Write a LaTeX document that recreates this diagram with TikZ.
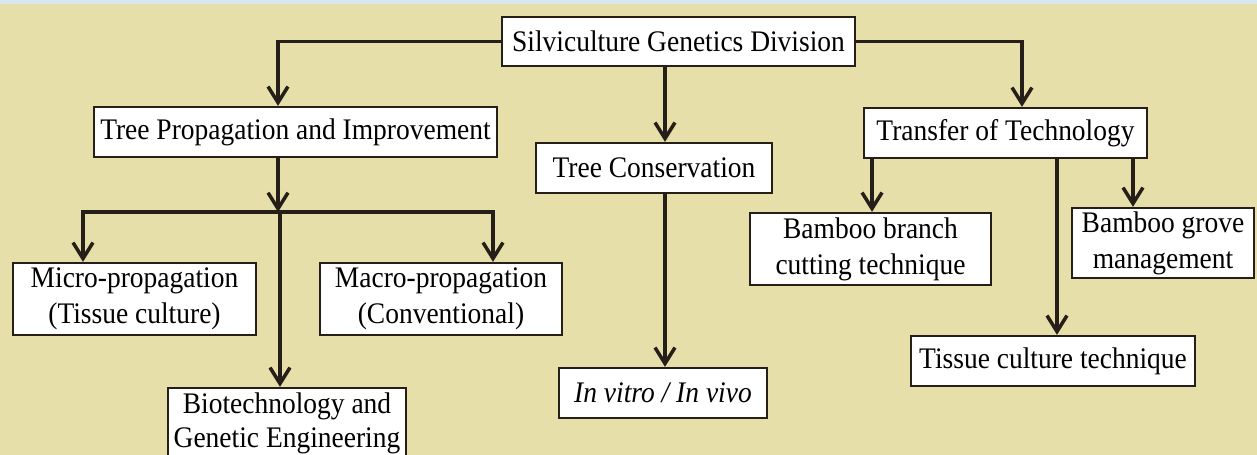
\documentclass[tikz,border=0pt]{standalone}
\usepackage{fontspec}
\setmainfont{Liberation Serif}[FakeStretch=0.92]
\usetikzlibrary{arrows.meta}
\definecolor{paper}{RGB}{231,223,170}
\definecolor{sky}{RGB}{214,232,238}
\definecolor{ink}{RGB}{38,30,24}

\begin{document}
\begin{tikzpicture}[x=0.02cm,y=-0.02cm,line width=2pt,draw=ink,
 box/.style={draw=ink,line width=1.3pt,fill=white,inner sep=0pt,align=center,
  font=\fontsize{17}{20.5}\selectfont},
 arr/.style={-{Straight Barb[length=0.32cm,width=0.4cm]}},
 arrs/.style={{Straight Barb[length=0.32cm,width=0.4cm]}-{Straight Barb[length=0.32cm,width=0.4cm]}}]

\useasboundingbox (0,0) rectangle (1257,455);
\clip (0,0) rectangle (1257,455);
\fill[paper] (0,0) rectangle (1257,455);
\fill[sky] (0,0) rectangle (1257,4);

% top level
\node[box,minimum width=7.06cm,minimum height=0.98cm] (root) at (678.5,41.5) {Silviculture Genetics Division};
\node[box,minimum width=8.06cm,minimum height=1cm] (tpi) at (295.5,132) {Tree Propagation and Improvement};
\node[box,minimum width=4.72cm,minimum height=1cm] (cons) at (654,168) {Tree Conservation};
\node[box,minimum width=5.66cm,minimum height=1cm] (tot) at (1005.5,133) {Transfer of Technology};

% propagation
\node[box,minimum width=4.86cm,minimum height=1.44cm] (micro) at (134.5,299) {Micro-propagation\\(Tissue culture)};
\node[box,minimum width=4.84cm,minimum height=1.44cm] (macro) at (441,299) {Macro-propagation\\(Conventional)};
\node[box,minimum width=4.76cm,minimum height=1.4cm,font=\fontsize{17}{19.5}\selectfont] (bio) at (287,423) {Biotechnology and\\Genetic Engineering};

% conservation
\node[box,minimum width=4.16cm,minimum height=1cm] (vitro) at (663,393) {\textit{In vitro / In vivo}};

% transfer
\node[box,minimum width=4.82cm,minimum height=1.44cm] (branch) at (870.5,249) {Bamboo branch\\cutting technique};
\node[box,minimum width=3.64cm,minimum height=1.4cm] (grove) at (1163,243) {Bamboo grove\\management};
\node[box,minimum width=5.68cm,minimum height=1cm] (tissue) at (1053,361) {Tissue culture technique};

\draw[arr] (root.west) -| ([xshift=-0.35cm]tpi.north);
\draw[arr] (root.east) -| ([xshift=0.33cm]tot.north);
\draw[arr] ([xshift=-0.27cm]root.south) coordinate (r0) -- (r0 |- cons.north);
\draw[arr] ([xshift=0.22cm]cons.south) coordinate (c0) -- (c0 |- vitro.north);

\coordinate (busL) at (83,212);
\coordinate (busM) at (280,212);
\coordinate (busR) at (493,212);
\draw[arr] ([xshift=-0.35cm]tpi.south) coordinate (t0) -- (t0 |- busM);
\draw[arrs] (busL |- micro.north) -- (busL) -- (busR) -- (busR |- macro.north);
\draw[arr] (busM) -- (busM |- bio.north);

\foreach \s/\n in {-2.67cm/branch,1.03cm/tissue,2.55cm/grove}
 \draw[arr] ([xshift=\s]tot.south) coordinate (t) -- (t |- \n.north);

\end{tikzpicture}
\end{document}
